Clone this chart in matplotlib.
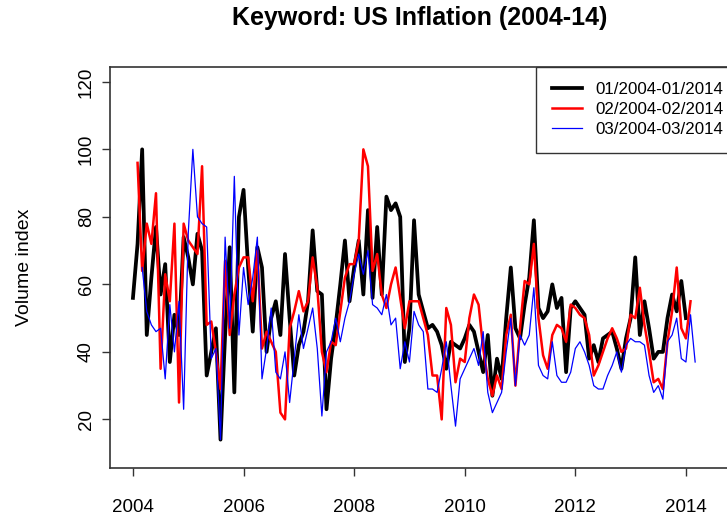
import numpy as np
import matplotlib
matplotlib.use("Agg")
import matplotlib.pyplot as plt

plt.rcParams['font.family'] = ['Liberation Sans', 'DejaVu Sans']

# monthly search volume index, three 10-year windows
jan_series = [56, 72, 100, 45, 62, 77, 57, 66, 37, 51, 45, 74,
              68, 60, 75, 70, 33, 40, 47, 14, 45, 71, 28, 80,
              88, 65, 46, 71, 65, 40, 50, 55, 45, 69, 50, 33,
              42, 46, 55, 76, 58, 57, 23, 38, 48, 60, 73, 55,
              65, 73, 57, 82, 56, 77, 57, 86, 82, 84, 80, 37,
              47, 79, 57, 52, 47, 48, 46, 42, 35, 43, 42, 41,
              44, 48, 46, 40, 34, 45, 27, 38, 32, 50, 65, 47,
              44, 54, 62, 79, 53, 50, 52, 60, 53, 56, 34, 53,
              55, 53, 51, 38, 42, 37, 44, 45, 46, 41, 35, 44,
              50, 68, 45, 55, 47, 38, 40, 40, 50, 57, 52, 61,
              50]
feb_series = [96, 64, 78, 72, 87, 35, 63, 55, 78, 25, 78, 73,
              71, 69, 95, 48, 49, 40, 29, 67, 45, 57, 65, 68,
              68, 55, 70, 41, 46, 43, 40, 22, 20, 47, 52, 58,
              52, 55, 68, 59, 40, 34, 43, 42, 52, 62, 66, 66,
              73, 100, 95, 64, 69, 57, 53, 60, 65, 56, 47, 55,
              55, 55, 50, 45, 33, 33, 20, 53, 48, 31, 38, 37,
              50, 57, 54, 41, 32, 27, 33, 29, 45, 51, 30, 47,
              61, 60, 72, 50, 39, 35, 45, 48, 47, 43, 54, 53,
              51, 50, 45, 33, 36, 40, 44, 47, 44, 40, 41, 51,
              50, 59, 48, 40, 31, 32, 29, 43, 52, 65, 47, 44,
              55]
mar_series = [65, 52, 48, 46, 47, 32, 54, 40, 55, 23, 75, 100,
              80, 78, 77, 38, 41, 14, 74, 47, 92, 45, 65, 54,
              62, 74, 32, 41, 53, 34, 32, 40, 25, 38, 51, 41,
              47, 53, 41, 21, 40, 43, 50, 43, 50, 55, 63, 69,
              63, 70, 54, 53, 51, 57, 48, 50, 35, 43, 37, 52,
              48, 46, 29, 29, 28, 35, 43, 30, 18, 32, 35, 38,
              41, 36, 46, 28, 22, 25, 28, 40, 50, 30, 45, 42,
              45, 59, 36, 33, 32, 43, 33, 31, 31, 34, 41, 43,
              40, 36, 30, 29, 29, 33, 36, 40, 34, 42, 44, 43,
              43, 42, 33, 28, 30, 26, 43, 45, 50, 38, 37, 51,
              37]
labels = ["01/2004-01/2014", "02/2004-02/2014", "03/2004-03/2014"]
start_month = [0, 1, 2]
colors = ["black", "#ff0000", "#0000ff"]
widths = [2.7, 1.8, 0.9]

x_ticks = [2004, 2006, 2008, 2010, 2012, 2014]
y_ticks = [20, 40, 60, 80, 100, 120]

fig = plt.figure(figsize=(7.27, 5.23), dpi=100)
ax = fig.add_axes([110 / 727, 1 - 468 / 523, 620 / 727, 401 / 523])

for series, m0, c, lw, lab in zip([jan_series, feb_series, mar_series],
                                  start_month, colors, widths, labels):
    t = 2004 + (m0 + np.arange(len(series))) / 12
    ax.plot(t, series, color=c, linewidth=lw, label=lab)

ax.set_xlim(2003.585, 2014.797)
ax.set_ylim(5.6, 124.4)
ax.set_xticks(x_ticks)
ax.set_yticks(y_ticks)
ax.tick_params(axis='both', length=6, width=1, color='#333333', labelsize=13.5)
ax.tick_params(axis='x', pad=16)
ax.tick_params(axis='y', pad=5)
for lbl in ax.get_yticklabels():
    lbl.set_rotation(90)
    lbl.set_va('center')
for s in ax.spines.values():
    s.set_color('#333333')
    s.set_linewidth(1.2)

ax.set_ylabel("Volume index", fontsize=14, labelpad=32)
ax.set_title("Keyword: US Inflation (2004-14)", fontsize=18,
             fontweight='bold', pad=30)

leg = ax.legend(loc='upper right', bbox_to_anchor=(1 + 9 / 620, 1),
                borderaxespad=0, fancybox=False,
                edgecolor='#333333', framealpha=1, fontsize=12.2,
                handlelength=1.8, handletextpad=0.8, labelspacing=0.3,
                borderpad=0.9)
leg.get_frame().set_linewidth(1.0)

fig.savefig("out.png", dpi=100)
